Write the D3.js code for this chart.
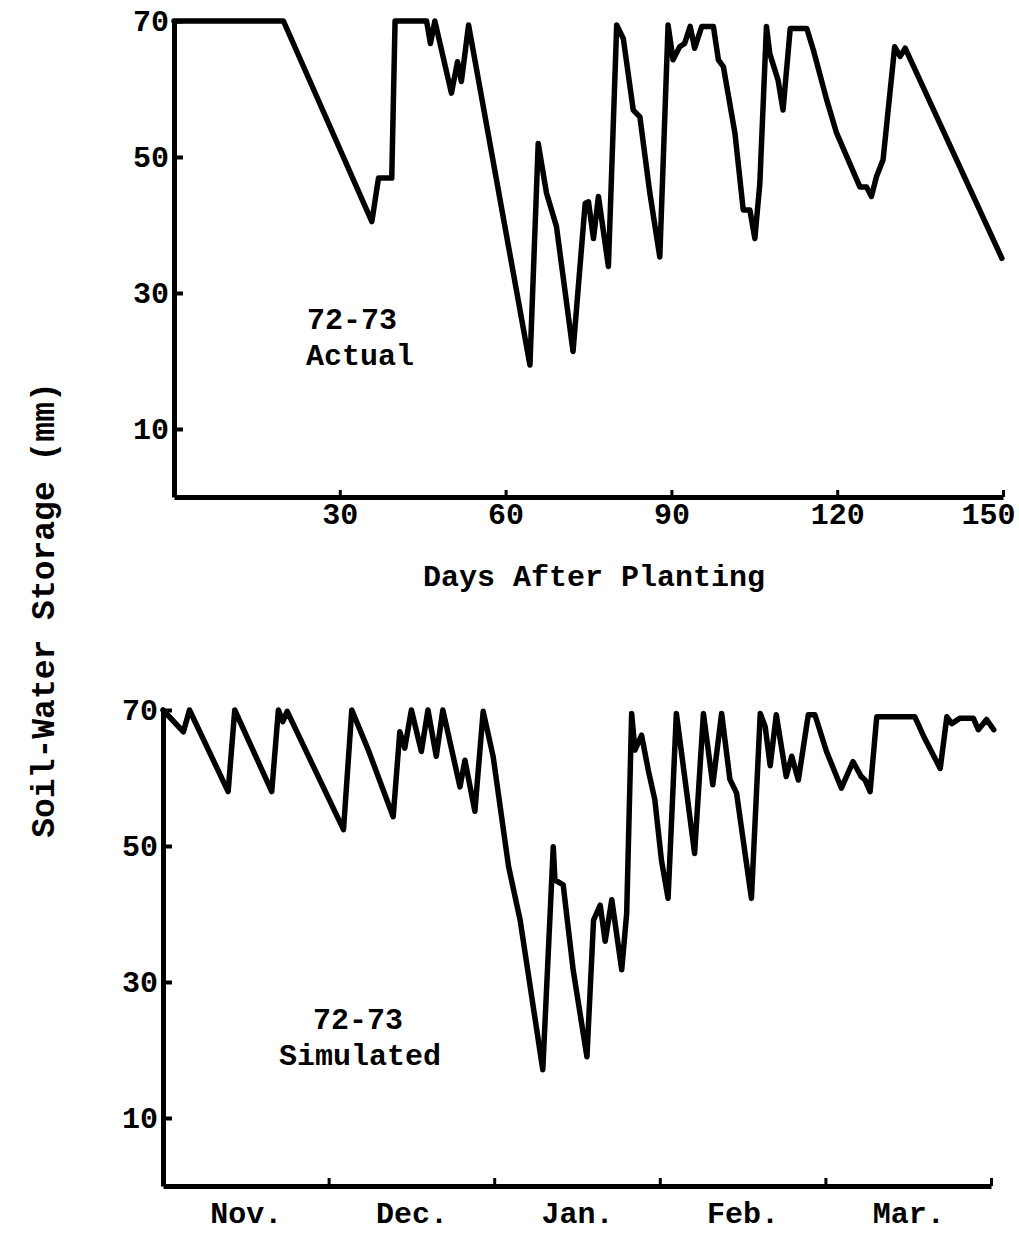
<!DOCTYPE html>
<html>
<head>
<meta charset="utf-8">
<script src="https://cdn.jsdelivr.net/npm/d3@7"></script>
<style>
  body { margin: 0; background: #fff; }
  text { font-family: "Liberation Mono", "DejaVu Sans Mono", monospace; font-weight: bold; fill: #000; }
</style>
</head>
<body>
<script>
/* Data: days after planting and soil-water storage (mm), 72-73 season. */
const actualDays = [0, 19.8, 35.8, 37.0, 39.4, 40.0, 45.7, 46.4, 47.2, 50.2, 51.3, 52.0, 53.3, 64.4, 65.9,
  67.4, 69.2, 72.2, 74.4, 75.0, 75.9, 76.8, 78.6, 80.1, 81.3, 83.1, 84.3, 86.1, 87.9, 89.4,
  90.3, 91.5, 92.4, 93.4, 94.2, 95.5, 97.6, 98.5, 99.4, 101.5, 103.0, 104.2, 105.1, 106.0, 107.2,
  107.8, 109.3, 110.2, 111.5, 114.5, 115.7, 118.1, 119.9, 124.1, 125.3, 126.2, 127.1, 128.3, 130.4, 131.4,
  132.3, 149.8]
const actualValues = [70, 70, 40.5, 46.9, 46.9, 70, 70, 66.7, 70, 59.4, 64.0, 61.1, 69.4, 19.4, 52.0,
  44.7, 39.8, 21.4, 43.2, 43.4, 38.0, 44.2, 33.9, 69.4, 67.4, 56.9, 55.9, 44.7, 35.3, 69.4,
  64.3, 66.2, 66.7, 69.2, 66.0, 69.2, 69.2, 64.3, 63.3, 53.5, 42.2, 42.2, 38.0, 46.1, 69.2,
  65.2, 61.3, 56.9, 68.9, 68.9, 65.7, 58.4, 53.5, 45.6, 45.6, 44.2, 47.1, 49.6, 66.2, 64.8,
  66.0, 35.1]

const simDays = [0, 3.7, 4.8, 11.8, 13.0, 19.7, 20.9, 21.7, 22.5, 32.7, 34.2, 37.2, 41.7, 42.9, 43.8,
  45.0, 46.8, 48.0, 49.5, 50.7, 53.8, 54.7, 56.5, 58.0, 59.8, 62.6, 64.7, 68.8, 70.7, 71.0,
  72.5, 73.1, 74.3, 76.8, 78.0, 79.2, 80.1, 81.3, 83.1, 84.0, 84.9, 85.5, 86.7, 87.9, 89.1,
  90.3, 91.5, 93.0, 94.5, 96.3, 97.9, 99.6, 101.2, 102.7, 103.9, 106.6, 108.2, 109.1, 110.0, 111.1,
  112.9, 113.9, 115.1, 116.9, 118.1, 120.2, 122.9, 125.0, 126.5, 127.2, 128.1, 129.3, 136.2, 138.0, 140.8,
  142.0, 142.9, 144.4, 146.8, 147.7, 149.2, 150.5]
const simValues = [70, 66.8, 70, 58.0, 70, 58.0, 70, 68.3, 69.8, 52.4, 70, 64.1, 54.3, 66.8, 64.4,
  70, 63.9, 70, 63.2, 70, 58.7, 62.6, 55.1, 69.8, 63.2, 47.0, 39.1, 17.1, 49.9, 45.0,
  44.3, 40.1, 31.8, 19.0, 39.1, 41.3, 36.0, 42.1, 31.8, 40.1, 69.5, 64.1, 66.3, 61.2, 56.8,
  47.9, 42.3, 69.5, 60.2, 48.9, 69.5, 59.0, 69.5, 59.8, 57.8, 42.3, 69.5, 67.5, 61.8, 69.3,
  60.2, 63.2, 59.7, 69.3, 69.3, 63.9, 58.5, 62.4, 60.2, 59.7, 58.0, 69.0, 69.0, 65.8, 61.4,
  69.0, 68.0, 68.8, 68.8, 67.1, 68.6, 67.1]

const dayTicks = [30, 60, 90, 120, 150]
const yTicks = [10, 30, 50, 70]
const months = ["Nov.", "Dec.", "Jan.", "Feb.", "Mar."]
const monthCenters = [15, 45, 75, 105, 135]

/* Define svg-size. */
const width = 1019
const height = 1233

const svg = d3.select("body")
  .append("svg")
  .attr("width", width)
  .attr("height", height)

/* Scales for both panels. */
const xTop = d3.scaleLinear().domain([0, 150]).range([174, 1003])
const yTop = d3.scaleLinear().domain([0, 70]).range([497, 21])
const xBot = d3.scaleLinear().domain([0, 150]).range([163, 991])
const yBot = d3.scaleLinear().domain([0, 70]).range([1186, 710])

const fontSize = 30

/* Draw a y axis with inward ticks. */
function drawYAxis(x, y) {
  const g = svg.append("g")
    .attr("transform", `translate(${x.range()[0]},0)`)
    .call(d3.axisLeft(y).tickValues(yTicks).tickSize(-9).tickSizeOuter(0).tickPadding(5))
  g.select(".domain").attr("stroke", "#000").attr("stroke-width", 5)
  g.selectAll(".tick line").attr("stroke", "#000").attr("stroke-width", 4)
  g.selectAll(".tick text").attr("font-size", fontSize).attr("font-family", null)
  return g
}

/* Draw the series line. */
function drawLine(x, y, days, values) {
  const line = d3.line()
    .x(d => x(d[0]))
    .y(d => y(d[1]))
  svg.append("path")
    .datum(d3.zip(days, values))
    .attr("fill", "none")
    .attr("stroke", "#000")
    .attr("stroke-width", 5.5)
    .attr("stroke-linejoin", "round")
    .attr("stroke-linecap", "round")
    .attr("d", line)
}

/* Top panel: actual. */
const gxTop = svg.append("g")
  .attr("transform", `translate(0,${yTop(0)})`)
  .call(d3.axisBottom(xTop).tickValues(dayTicks).tickSize(-7).tickSizeOuter(0).tickPadding(8))
gxTop.select(".domain").attr("stroke", "#000").attr("stroke-width", 5)
gxTop.selectAll(".tick line").attr("stroke", "#000").attr("stroke-width", 3)
gxTop.selectAll(".tick text")
  .attr("font-size", fontSize).attr("font-family", null)
  .attr("dy", "0.62em")
  .attr("text-anchor", d => d === 150 ? "end" : "middle")
  .attr("dx", d => d === 150 ? 12 : 0)
drawYAxis(xTop, yTop)
drawLine(xTop, yTop, actualDays, actualValues)

svg.append("text").attr("x", 352).attr("y", 329).attr("text-anchor", "middle")
  .attr("font-size", fontSize).text("72-73")
svg.append("text").attr("x", 360).attr("y", 365).attr("text-anchor", "middle")
  .attr("font-size", fontSize).text("Actual")

svg.append("text").attr("x", 594).attr("y", 586).attr("text-anchor", "middle")
  .attr("font-size", fontSize).text("Days After Planting")

/* Bottom panel: simulated. */
const gxBot = svg.append("g")
  .attr("transform", `translate(0,${yBot(0)})`)
  .call(d3.axisBottom(xBot).tickValues(dayTicks).tickSize(-8).tickSizeOuter(0).tickFormat(""))
gxBot.select(".domain").attr("stroke", "#000").attr("stroke-width", 5)
gxBot.selectAll(".tick line").attr("stroke", "#000").attr("stroke-width", 3)

const gMonths = svg.append("g")
  .attr("transform", `translate(0,${yBot(0)})`)
  .call(d3.axisBottom(xBot).tickValues(monthCenters).tickSize(0).tickPadding(18)
    .tickFormat((d, i) => months[i]))
gMonths.select(".domain").remove()
gMonths.selectAll(".tick text").attr("font-size", fontSize).attr("font-family", null)
  .attr("dy", "0.62em")

drawYAxis(xBot, yBot)
drawLine(xBot, yBot, simDays, simValues)

svg.append("text").attr("x", 358).attr("y", 1029).attr("text-anchor", "middle")
  .attr("font-size", fontSize).text("72-73")
svg.append("text").attr("x", 360).attr("y", 1065).attr("text-anchor", "middle")
  .attr("font-size", fontSize).text("Simulated")

/* Shared y axis title. */
svg.append("text")
  .attr("transform", "translate(54,610) rotate(-90)")
  .attr("text-anchor", "middle")
  .attr("font-size", 33)
  .text("Soil-Water Storage (mm)")
</script>
</body>
</html>
